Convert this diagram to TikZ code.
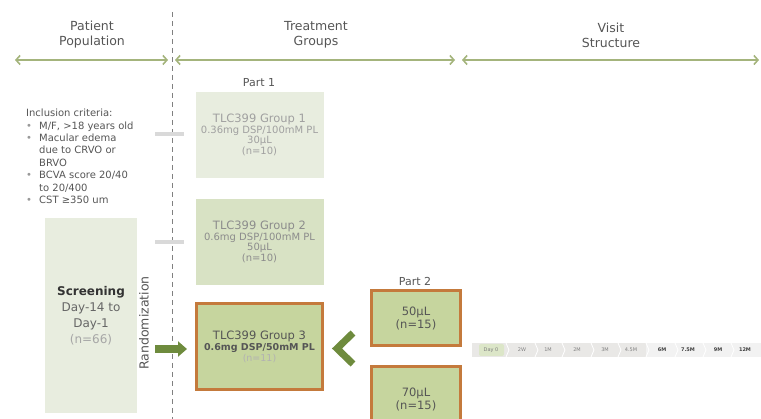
\documentclass[tikz,border=0pt]{standalone}
\usepackage{fontspec}
\setmainfont{DejaVu Sans}
\usetikzlibrary{arrows.meta}

\definecolor{hdrgray}{HTML}{555555}
\definecolor{spangreen}{HTML}{A4B47C}
\definecolor{darkgreen}{HTML}{6E8B3D}
\definecolor{paleone}{HTML}{E8EDDF}
\definecolor{paletwo}{HTML}{D8E2C4}
\definecolor{boxgreen}{HTML}{C6D59E}
\definecolor{rimorange}{HTML}{C47A3C}
\definecolor{fadegray}{HTML}{A0A0A0}
\definecolor{tlgray}{HTML}{E9E8E6}
\definecolor{tlgreen}{HTML}{DCE6C8}

\begin{document}
\begin{tikzpicture}[x=1pt,y=-1pt,
    hdr/.style={align=center,inner sep=0pt,text=hdrgray,font=\fontsize{12.5}{15}\selectfont},
    span/.style={draw=spangreen,line width=1.6pt,
      {Straight Barb[length=4pt,width=9pt]}-{Straight Barb[length=4pt,width=9pt]}},
    grpbox/.style={minimum width=128pt,minimum height=86pt,align=center,inner sep=0pt,
      font=\fontsize{10}{10.5}\selectfont},
    armbox/.style={draw=rimorange,line width=3pt,fill=boxgreen,align=center,inner sep=0pt,
      text=hdrgray},
    fadebar/.style={draw=black!15,line width=4pt},
    tick/.style={font=\fontsize{5}{5}\selectfont,text=black!50,inner sep=0pt}]

    \clip (0,0) rectangle (761,419);

    % headers
    \node[hdr] (hpop) at (92,35) {Patient\\Population};
    \node[hdr] (htrt) at (316,35) {Treatment\\Groups};
    \node[hdr] (hvis) at (611,35) {Visit\\Structure};

    % header arrows
    \coordinate (s0) at (15,60);
    \coordinate (s1) at (168,60);
    \coordinate (s2) at (175,60);
    \coordinate (s3) at (455,60);
    \coordinate (s4) at (462,60);
    \coordinate (s5) at (759,60);
    \draw[span] (s0) -- (s1);
    \draw[span] (s2) -- (s3);
    \draw[span] (s4) -- (s5);

    % randomization line
    \draw[black!50,line width=1pt,dash pattern=on 5pt off 4pt] (172,12) -- (172,419);

    % inclusion criteria
    \node[anchor=north west,align=left,inner sep=0pt,text=hdrgray,
      font=\fontsize{10}{12.4}\selectfont] (incl) at (26,109)
      {Inclusion criteria:\\
       \makebox[13pt][l]{\textcolor{black!40}{\textbullet}}M/F, >18 years old\\
       \makebox[13pt][l]{\textcolor{black!40}{\textbullet}}Macular edema\\
       \hspace*{13pt}due to CRVO or\\
       \hspace*{13pt}BRVO\\
       \makebox[13pt][l]{\textcolor{black!40}{\textbullet}}BCVA score 20/40\\
       \hspace*{13pt}to 20/400\\
       \makebox[13pt][l]{\textcolor{black!40}{\textbullet}}CST ≥350 um};

    % screening
    \node[fill=paleone,minimum width=92pt,minimum height=195pt,inner sep=0pt,align=center,
      font=\fontsize{12}{16}\selectfont] (screen) at (91,315.5)
      {\textcolor{black!80}{\textbf{Screening}}\\
       \textcolor{black!60}{Day-14 to}\\
       \textcolor{black!60}{Day-1}\\
       \textcolor{black!35}{(n=66)}};
    \node[rotate=90,inner sep=0pt,text=hdrgray,font=\fontsize{12.5}{12}\selectfont]
      (rand) at (144,323) {Randomization};

    % part 1
    \node[text=hdrgray,font=\fontsize{11}{11}\selectfont,inner sep=0pt] (part1) at (259,83) {Part 1};
    \node[grpbox,fill=paleone,text=fadegray] (g1) at (259.5,135)
      {{\fontsize{11.5}{12}\selectfont TLC399 Group 1}\\0.36mg DSP/100mM PL\\30µL\\(n=10)};
    \node[grpbox,fill=paletwo,text=black!45] (g2) at (259.5,242)
      {{\fontsize{11.5}{12}\selectfont TLC399 Group 2}\\0.6mg DSP/100mM PL\\50µL\\(n=10)};
    \node[armbox,minimum width=126pt,minimum height=86pt,
      font=\fontsize{11.5}{11}\selectfont] (g3) at (259.5,346.5)
      {TLC399 Group 3\\{\fontsize{9.5}{10}\selectfont\bfseries 0.6mg DSP/50mM PL}\\
       {\fontsize{9.5}{10}\selectfont\textcolor{black!30}{(n=11)}}};

    % faded arrows to groups 1 and 2
    \coordinate (f1) at (155,134);
    \coordinate (f2) at (155,242);
    \draw[fadebar] (f1) -- ([xshift=-11pt]f1 -| g1.west);
    \draw[fadebar] (f2) -- ([xshift=-11pt]f2 -| g2.west);

    % randomization arrow
    \coordinate (rtail) at (155,349);
    \draw[darkgreen,line width=8pt,-{Triangle[length=9pt,width=15pt]}]
      (rtail) -- ([xshift=-8pt]rtail -| g3.west);

    % part 2
    \node[text=hdrgray,font=\fontsize{11}{11}\selectfont,inner sep=0pt] (part2) at (415,281) {Part 2};
    \node[armbox,minimum width=89pt,minimum height=55pt,font=\fontsize{11.5}{13}\selectfont]
      (p2a) at (416,318) {50µL\\(n=15)};
    \node[armbox,minimum width=89pt,minimum height=64pt,font=\fontsize{11.5}{13}\selectfont]
      (p2b) at (416,399) {70µL\\(n=15)};
    \draw[darkgreen,line width=7pt,miter limit=3] (353,333) -- (337,348.5) -- (353,364);

    % visit structure
    \fill[tlgray] (472,343) rectangle (761,357);
    \fill[black!5] (646,343) rectangle (761,357);
    \fill[tlgreen,rounded corners=2pt] (479,344) rectangle (504,356);
    \foreach \sx in {506,535,562,591,618,646,675,703,731}
      \draw[white,line width=0.8pt] (\sx,343) -- (\sx+3,350) -- (\sx,357);
    \foreach \tx/\tl [count=\i] in {491/Day 0,522/2W,548/1M,577/2M,605/3M,631/4.5M}
      \node[tick] (v\i) at (\tx,350) {\tl};
    \foreach \tx/\tl [count=\i from 7] in {662/6M,688/7.5M,718/9M,745/12M}
      \node[tick,text=black!75,font=\fontsize{5}{5}\selectfont\bfseries] (v\i) at (\tx,350) {\tl};
\end{tikzpicture}
\end{document}
